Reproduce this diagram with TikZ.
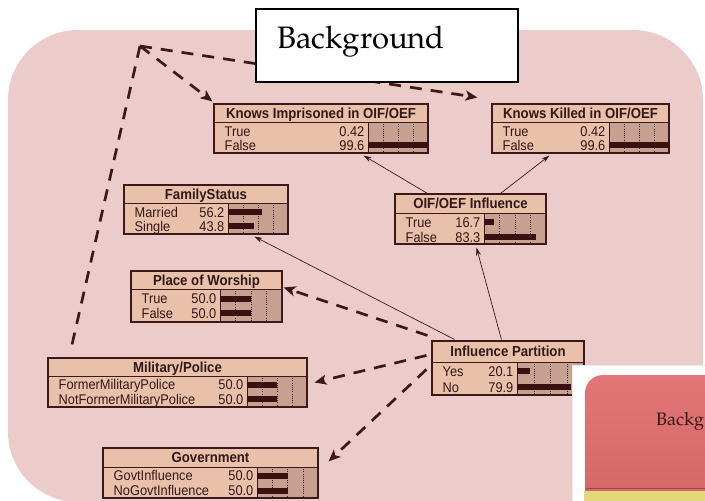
\documentclass[tikz,border=0pt]{standalone}
\usepackage{fontspec}
\setmainfont{Liberation Sans}
\newfontfamily\palfont{TeX Gyre Pagella}
\usetikzlibrary{arrows.meta,calc,fit}
\definecolor{pinkbg}{RGB}{236,203,203}
\definecolor{nodefill}{RGB}{233,192,170}
\definecolor{barfill}{RGB}{198,160,145}
\definecolor{darkc}{RGB}{62,24,24}
\definecolor{barc}{RGB}{58,16,16}
\definecolor{textc}{RGB}{50,24,24}
\definecolor{insetred}{RGB}{226,118,118}
\definecolor{insetred2}{RGB}{212,100,100}
\definecolor{insetyel}{RGB}{226,216,122}
\tikzset{
  bnframe/.style={draw=darkc, line width=1.1pt, inner sep=0pt},
  divider/.style={draw=darkc, line width=0.9pt},
  gridline/.style={draw=darkc, line width=0.45pt, dash pattern=on 1pt off 1.2pt},
  titletext/.style={font=\bfseries\fontsize{13.2}{15}\selectfont, text=textc, inner sep=0pt, anchor=base},
  rowtext/.style={font=\fontsize{12.8}{14}\selectfont, text=textc, inner sep=0pt},
  thinarrow/.style={draw=darkc, line width=0.7pt, -{Stealth[length=8pt,width=5pt]}},
  dashline/.style={draw=darkc, line width=2.7pt, dash pattern=on 12pt off 9pt},
  dasharrow/.style={dashline, -{Stealth[length=12pt,width=10pt,inset=3pt]}},
}
% #1 name, #2 left, #3 top, #4 right, #5 bottom, #6 bar x, #7 title height, #8 title
\newcommand\bnbox[8]{%
  \def\bnl{#2}\def\bnr{#4}\def\bnx{#6}%
  \fill[nodefill] (#2,#3) rectangle (#4,#5);
  \fill[barfill] (#6,#3+#7) rectangle (#4,#5);
  \foreach \f in {0.25,0.5,0.75}{\draw[gridline] ({#6+\f*(#4-#6)},#3+#7) -- ({#6+\f*(#4-#6)},#5);}
  \draw[divider] (#2,#3+#7) -- (#4,#3+#7) (#6,#3+#7) -- (#6,#5);
  \node[bnframe, fit={(#2,#3) (#4,#5)}] (#1) {};
  \node[titletext] (#1t) at ({(#2+#4)/2},#3+#7/2+5) {\scalebox{1}[1.1]{#8}};
}
% #1 name, #2 y centre, #3 label, #4 value, #5 percent
\newcommand\bnrow[5]{%
  \node[rowtext, anchor=base west] (#1l) at (\bnl+10.5,#2+5) {\scalebox{1}[1.1]{#3}};
  \node[rowtext, anchor=base east] (#1v) at (\bnx-3.5,#2+5) {\scalebox{1}[1.1]{#4}};
  \fill[barc] (\bnx,#2-3) rectangle ({\bnx+#5/100*(\bnr-\bnx)},#2+3);
}
\begin{document}
\begin{tikzpicture}[x=1pt,y=-1pt]
\useasboundingbox (0,0) rectangle (705,501);
\clip (0,0) rectangle (705,501);
\fill[white] (0,0) rectangle (705,501);
\fill[pinkbg, rounded corners=70pt] (8,30) rectangle (703,502);

\bnbox{ki}{214}{104}{428}{153}{368}{18}{Knows Imprisoned in OIF/OEF}
\bnrow{kia}{131}{True}{0.42}{0.42}
\bnrow{kib}{145}{False}{99.6}{99.6}

\bnbox{kk}{492}{104}{669}{153}{609}{18}{Knows Killed in OIF/OEF}
\bnrow{kka}{131}{True}{0.42}{0.42}
\bnrow{kkb}{145}{False}{99.6}{99.6}

\bnbox{oif}{395}{194}{546}{244}{484}{19}{OIF/OEF Influence}
\bnrow{oifa}{222}{True}{16.7}{16.7}
\bnrow{oifb}{237}{False}{83.3}{83.3}

\bnbox{fs}{124}{185}{288}{234}{228}{18}{FamilyStatus}
\bnrow{fsa}{212}{Married}{56.2}{56.2}
\bnrow{fsb}{226}{Single}{43.8}{43.8}

\bnbox{pow}{131}{271}{282}{322}{220}{18}{Place of Worship}
\bnrow{powa}{298.5}{True}{50.0}{50}
\bnrow{powb}{313}{False}{50.0}{50}

\bnbox{mp}{48}{358}{307}{407}{247}{18}{Military/Police}
\bnrow{mpa}{384.5}{FormerMilitaryPolice}{50.0}{50}
\bnrow{mpb}{399}{NotFormerMilitaryPolice}{50.0}{50}

\bnbox{ip}{432}{341}{584}{395}{517}{21}{Influence Partition}
\bnrow{ipa}{371}{Yes}{20.1}{20.1}
\bnrow{ipb}{387}{No}{79.9}{79.9}

\bnbox{gov}{103}{448}{318}{498}{257}{19}{Government}
\bnrow{gova}{475.5}{GovtInfluence}{50.0}{50}
\bnrow{govb}{490.5}{NoGovtInfluence}{50.0}{50}

% thin arrows
\draw[thinarrow] ($(oif.north west)+(33,0)$) -- ($(ki.south east)+(-65,2)$);
\draw[thinarrow] ($(oif.north west)+(106,0)$) -- ($(kk.south west)+(58,2)$);
\draw[thinarrow] ($(ip.north west)+(23,-1)$) -- ($(fs.south west)+(131,2)$);
\draw[thinarrow] ($(ip.north west)+(70,-1)$) -- ($(oif.south west)+(82,3)$);

% dashed arrows from Influence Partition
\draw[dasharrow] ($(ip.north west)+(-4,-5)$) -- ($(pow.north east)+(1,17)$);
\draw[dasharrow] ($(ip.north west)+(-5,15)$) -- ($(mp.east)+(7,0)$);
\draw[dasharrow] ($(ip.north west)+(-5,29)$) -- ($(gov.north east)+(10,14)$);

% background links
\coordinate (apex) at (140,46);
\coordinate (kkend) at ($(kk.north west)+(-14,-6)$);
\coordinate (mpend) at ($(mp.north west)+(23,-6)$);
\draw[dasharrow] (apex) -- ($(ki.north west)+(-1,-2)$);
\draw[dasharrow] (apex) -- (kkend);
\draw[dashline] (apex) -- (mpend);

% Background label box
\node[draw=black, line width=1.4pt, fill=white, inner sep=0pt, fit={(256,9) (518,82)}] (bgbox) {};
\node[font=\palfont\fontsize{31}{34}\selectfont, text=black, anchor=base west, inner sep=0pt] (bgtext) at (277,48) {Background};

% inset picture
\fill[white] (572,365) rectangle (705,501);
\draw[black!8, line width=1pt] (572.5,501) -- (572.5,365.5) -- (705,365.5);
\shade[top color=insetred, bottom color=insetred2, rounded corners=18pt] (585,375) rectangle (740,520);
\draw[insetred2!75!black, line width=0.5pt] (586,488) -- (705,488);
\fill[insetyel] (584,491) rectangle (705,501);
\node[font=\palfont\fontsize{18}{20}\selectfont, text=textc, anchor=base west, inner sep=0pt] (insettext) at (656,425) {Backg};
\end{tikzpicture}
\end{document}
